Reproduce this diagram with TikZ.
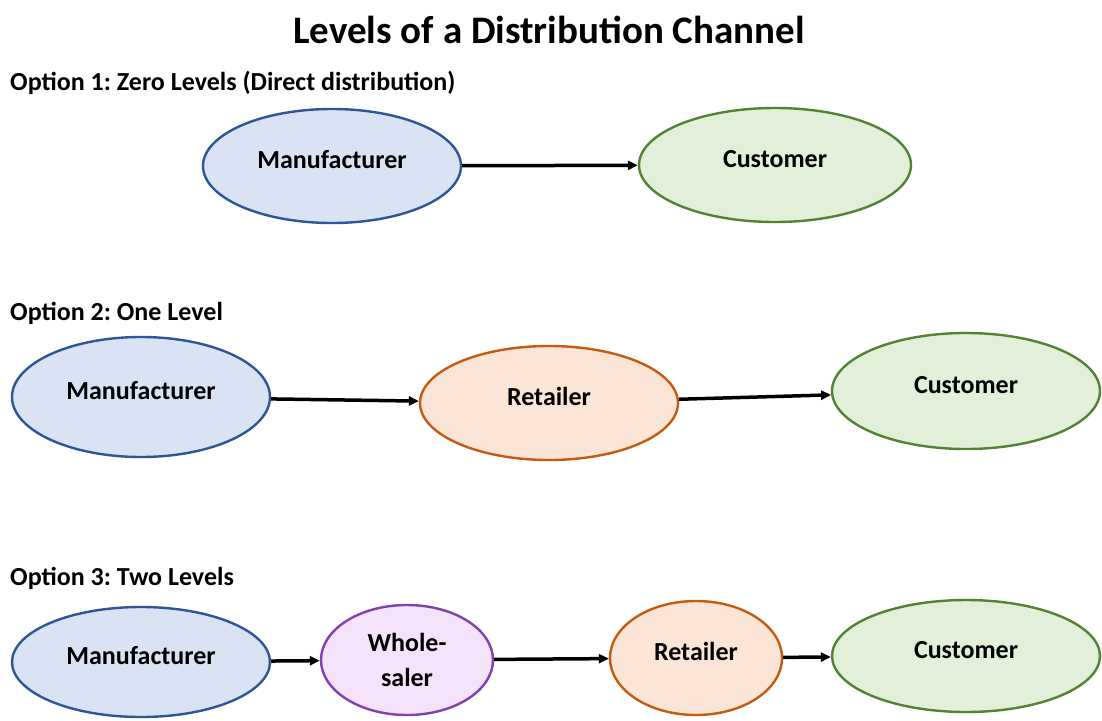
\documentclass[tikz,border=0pt]{standalone}
\usepackage{fontspec}
\setmainfont{Carlito}
\frenchspacing
\usetikzlibrary{shapes.geometric}
\usetikzlibrary{arrows.meta}
\definecolor{manfill}{HTML}{DAE3F3}
\definecolor{mandraw}{HTML}{2F5597}
\definecolor{custfill}{HTML}{E2F0D9}
\definecolor{custdraw}{HTML}{548235}
\definecolor{retfill}{HTML}{FBE5D6}
\definecolor{retdraw}{HTML}{C55A11}
\definecolor{whfill}{HTML}{F5E3FB}
\definecolor{whdraw}{HTML}{8040B0}
\tikzset{
	level/.style={ellipse,line width=2.4pt,inner sep=0pt,font=\fontsize{26}{30}\selectfont\bfseries},
	raised/.style={text height=19pt,text depth=14pt},
	manuf/.style={level,raised,fill=manfill,draw=mandraw,minimum width=258pt,minimum height=114pt},
	cust/.style={level,raised,fill=custfill,draw=custdraw,minimum width=272pt,minimum height=114pt},
	retail/.style={level,raised,fill=retfill,draw=retdraw,minimum width=258pt,minimum height=114pt},
	whole/.style={level,fill=whfill,draw=whdraw,minimum width=172pt,minimum height=110pt,align=center},
	option/.style={anchor=west,inner sep=0pt,font=\fontsize{26}{30}\selectfont\bfseries},
	flow/.style={-{Triangle[length=10pt,width=9pt]},line width=3.5pt,black},
}
\begin{document}
\begin{tikzpicture}[x=1pt,y=-1pt]
\useasboundingbox (0,0) rectangle (1102,720);
%TITOLO
\node (title) at (549,30) {\fontsize{39}{44}\selectfont\bfseries Levels of a Distribution Channel};
%OPZIONE 1
\node[option] (opt1) at (10,83) {Option 1: Zero Levels (Direct distribution)};
\node[manuf] (m1) at (332,166) {Manufacturer};
\node[cust] (c1) at (775,165) {Customer};
\draw[flow] (m1) -- (c1);
%OPZIONE 2
\node[option] (opt2) at (10,313) {Option 2: One Level};
\node[manuf,minimum height=120pt] (m2) at (141,397) {Manufacturer};
\node[retail] (r2) at (549,403) {Retailer};
\node[cust,minimum width=268pt,minimum height=116pt] (c2) at (966,391) {Customer};
\draw[flow] (m2) -- (r2);
\draw[flow] (r2) -- (c2);
%OPZIONE 3
\node[option] (opt3) at (10,578) {Option 3: Two Levels};
\node[manuf,minimum height=110pt] (m3) at (141,662) {Manufacturer};
\node[whole] (w3) at (407,660) {Whole-\\[5pt]saler};
\node[retail,minimum width=172pt] (r3) at (696,658) {Retailer};
\node[cust,minimum width=268pt,minimum height=112pt] (c3) at (966,656) {Customer};
\draw[flow] (m3) -- (w3);
\draw[flow] (w3) -- (r3);
\draw[flow] (r3) -- (c3);
\end{tikzpicture}
\end{document}
